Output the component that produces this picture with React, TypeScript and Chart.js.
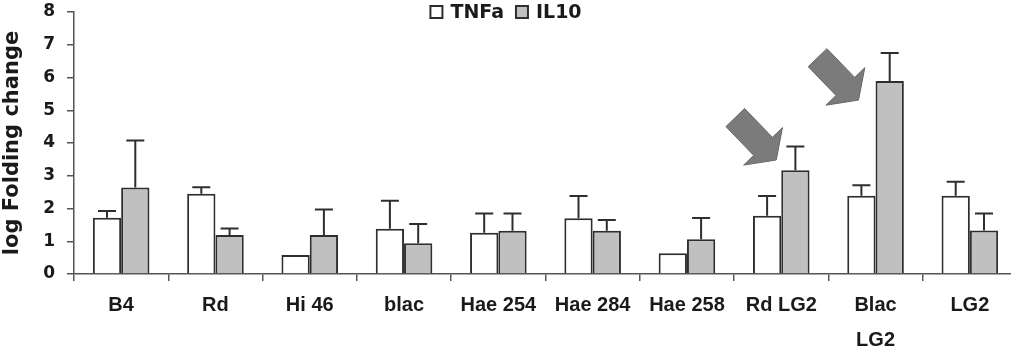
import { useEffect, useRef } from 'react';
import { Chart, registerables } from 'chart.js';

Chart.register(...registerables);

// ---- data ----
const categories: (string | string[])[] = ['B4', 'Rd', 'Hi 46', 'blac', 'Hae 254', 'Hae 284', 'Hae 258', 'Rd LG2', ['Blac', 'LG2'], 'LG2'];
const seriesNames = ['TNFa', 'IL10'];
const tnfaValues = [1.72, 2.45, 0.58, 1.38, 1.26, 1.70, 0.63, 1.78, 2.39, 2.39];
const tnfaErrors: (number | null)[] = [0.20, 0.20, null, 0.86, 0.59, 0.68, null, 0.60, 0.32, 0.43];
const il10Values = [2.64, 1.19, 1.19, 0.94, 1.32, 1.32, 1.06, 3.17, 5.89, 1.33];
const il10Errors: (number | null)[] = [1.44, 0.20, 0.78, 0.59, 0.53, 0.33, 0.65, 0.72, 0.86, 0.52];
const yMin = 0;
const yMax = 8;
const yStep = 1;
const yTitle = 'log Folding change';
// arrows pointing at highlighted IL10 bars (category index, value at arrow tip)
const arrowTargets = [
  { index: 7, value: 3.48 },
  { index: 8, value: 5.31 },
];
const arrowOffsetsX = [-5, -17];

const DARK = '#2e2e2e';
const AXIS = '#555555';

const errorBarPlugin = {
  id: 'errorBars',
  afterDatasetsDraw(chart: any) {
    const { ctx } = chart;
    const y = chart.scales.y;
    chart.data.datasets.forEach((ds: any, di: number) => {
      const meta = chart.getDatasetMeta(di);
      meta.data.forEach((bar: any, i: number) => {
        const e = ds.errors[i];
        if (e == null) return;
        const v = ds.data[i];
        const yTop = y.getPixelForValue(v + e);
        const yBar = y.getPixelForValue(v);
        ctx.save();
        ctx.strokeStyle = DARK;
        ctx.lineWidth = 2;
        ctx.beginPath();
        ctx.moveTo(bar.x, yBar);
        ctx.lineTo(bar.x, yTop);
        ctx.moveTo(bar.x - 9, yTop);
        ctx.lineTo(bar.x + 9, yTop);
        ctx.stroke();
        ctx.restore();
      });
    });
  },
};

const arrowPlugin = {
  id: 'arrows',
  afterDatasetsDraw(chart: any) {
    const { ctx } = chart;
    const xs = chart.scales.x;
    const ys = chart.scales.y;
    const ang = (46 * Math.PI) / 180;
    const c = Math.cos(ang);
    const s = Math.sin(ang);
    const shape = [
      [0, 0], [-19, -27], [-19, -13], [-59, -13], [-59, 13], [-19, 13], [-19, 27],
    ];
    arrowTargets.forEach((t, k) => {
      const tx = xs.getPixelForValue(t.index) + arrowOffsetsX[k];
      const ty = ys.getPixelForValue(t.value);
      ctx.save();
      ctx.beginPath();
      shape.forEach(([u, v], j) => {
        const px = tx + u * c - v * s;
        const py = ty + u * s + v * c;
        if (j === 0) ctx.moveTo(px, py);
        else ctx.lineTo(px, py);
      });
      ctx.closePath();
      ctx.fillStyle = '#7b7b7b';
      ctx.fill();
      ctx.strokeStyle = '#686868';
      ctx.lineWidth = 1;
      ctx.stroke();
      ctx.restore();
    });
  },
};

const legendPlugin = {
  id: 'topLegend',
  afterDraw(chart: any) {
    const { ctx } = chart;
    const font = 'bold 19px "DejaVu Sans"';
    ctx.save();
    ctx.font = font;
    const box = 12;
    const gap = 8;
    const itemGap = 12;
    const items = chart.data.datasets.map((ds: any) => ({
      label: ds.label,
      fill: ds.backgroundColor,
      w: box + gap + ctx.measureText(ds.label).width,
    }));
    const total = items.reduce((a: number, it: any) => a + it.w, 0) + itemGap * (items.length - 1);
    let x = 506 - total / 2;
    const cy = 12;
    items.forEach((it: any) => {
      ctx.fillStyle = it.fill;
      ctx.fillRect(x, cy - box / 2, box, box);
      ctx.strokeStyle = DARK;
      ctx.lineWidth = 2;
      ctx.strokeRect(x, cy - box / 2, box, box);
      ctx.fillStyle = '#1a1a1a';
      ctx.textBaseline = 'middle';
      ctx.textAlign = 'left';
      ctx.fillText(it.label, x + box + gap, cy + 1);
      x += it.w + itemGap;
    });
    ctx.restore();
  },
};

export default function App() {
  const ref = useRef<HTMLCanvasElement | null>(null);
  useEffect(() => {
    if (!ref.current) return;
    const chart = new Chart(ref.current, {
      type: 'bar',
      data: {
        labels: categories as any,
        datasets: [
          {
            label: seriesNames[0],
            data: tnfaValues,
            errors: tnfaErrors,
            backgroundColor: '#ffffff',
            borderColor: DARK,
            borderWidth: 2,
            categoryPercentage: 0.6,
            barPercentage: 1.0,
          } as any,
          {
            label: seriesNames[1],
            data: il10Values,
            errors: il10Errors,
            backgroundColor: '#c0c0c0',
            borderColor: DARK,
            borderWidth: 2,
            categoryPercentage: 0.6,
            barPercentage: 1.0,
          } as any,
        ],
      },
      options: {
        responsive: false,
        animation: false,
        layout: { padding: { top: 12, right: 13, left: 0, bottom: 0 } },
        plugins: {
          legend: { display: false },
          tooltip: { enabled: false },
        },
        scales: {
          x: {
            border: { color: AXIS, width: 1.5 },
            grid: { drawOnChartArea: false, drawTicks: true, tickLength: 7, color: AXIS, lineWidth: 1.5, offset: true },
            ticks: {
              autoSkip: false,
              maxRotation: 0,
              minRotation: 0,
              padding: 7,
              color: '#1a1a1a',
              font: { family: '"Liberation Sans", Arial, sans-serif', weight: 'bold', size: 20, lineHeight: 1.75 },
            },
            afterFit: (scale: any) => { scale.height = 80; scale.paddingLeft = 0; scale.paddingRight = 0; },
          },
          y: {
            min: yMin,
            max: yMax,
            border: { color: AXIS, width: 1.5 },
            grid: { drawOnChartArea: false, drawTicks: true, tickLength: 7, color: AXIS, lineWidth: 1.5 },
            ticks: {
              stepSize: yStep,
              padding: 12,
              color: '#1a1a1a',
              font: { family: '"DejaVu Sans", sans-serif', weight: 'bold', size: 17 },
            },
            title: {
              display: true,
              text: yTitle,
              color: '#1a1a1a',
              padding: { top: 0, bottom: 0 },
              font: { family: '"DejaVu Sans", sans-serif', weight: 'bold', size: 21 },
            },
            afterFit: (scale: any) => { scale.width = 74; scale.paddingTop = 0; scale.paddingBottom = 0; },
          },
        },
      } as any,
      plugins: [errorBarPlugin, arrowPlugin, legendPlugin],
    });
    return () => chart.destroy();
  }, []);
  return (
    <div style={{ position: 'fixed', left: 0, top: 0, width: 1011, height: 354, overflow: 'hidden', background: '#ffffff' }}>
      <canvas ref={ref} width={1030} height={354} style={{ width: 1030, height: 354, display: 'block' }} />
    </div>
  );
}
